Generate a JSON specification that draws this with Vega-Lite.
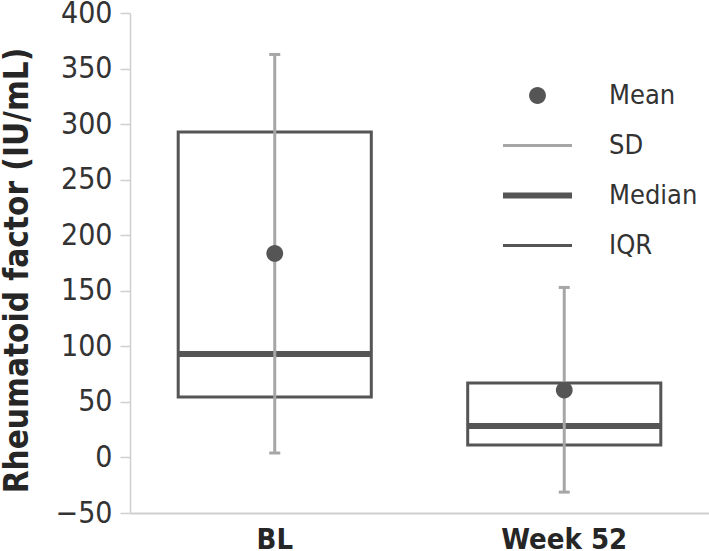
{
  "$schema": "https://vega.github.io/schema/vega-lite/v6.json",
  "width": 579,
  "height": 500,
  "autosize": {"type": "none"},
  "padding": {"left": 130, "top": 13, "right": 0, "bottom": 38},
  "background": "white",
  "config": {
    "view": {"stroke": null},
    "font": "DejaVu Sans Condensed, DejaVu Sans"
  },
  "data": {
    "values": [
      {"group": "BL", "mean": 183.6, "sdLow": 4, "sdHigh": 362.7, "q1": 54.5, "median": 93, "q3": 293},
      {"group": "Week 52", "mean": 60.6, "sdLow": -31.2, "sdHigh": 153, "q1": 11.3, "median": 28.2, "q3": 67.1}
    ]
  },
  "encoding": {
    "x": {
      "field": "group",
      "type": "nominal",
      "sort": ["BL", "Week 52"],
      "scale": {"paddingInner": 0, "paddingOuter": 0},
      "axis": {
        "title": null,
        "labelAngle": 0,
        "labelFont": "DejaVu Sans Condensed, DejaVu Sans",
        "labelFontSize": 29,
        "labelFontWeight": "bold",
        "labelColor": "#262626",
        "labelPadding": 12,
        "ticks": false,
        "domainColor": "#cfcfcf",
        "domainWidth": 2
      }
    }
  },
  "layer": [
    {
      "mark": {"type": "bar", "fill": null, "fillOpacity": 0, "stroke": "#555555", "strokeWidth": 3, "width": {"band": 0.667}},
      "encoding": {
        "y": {
          "field": "q1",
          "type": "quantitative",
          "scale": {"domain": [-50, 400], "nice": false, "zero": false},
          "axis": {
            "title": "Rheumatoid factor (IU/mL)",
            "titleFont": "DejaVu Sans Condensed, DejaVu Sans",
            "titleFontSize": 33,
            "titleFontWeight": "bold",
            "titleColor": "#262626",
            "titleX": -96,
            "titleY": 257,
            "values": [-50, 0, 50, 100, 150, 200, 250, 300, 350, 400],
            "labelFont": "DejaVu Sans Condensed, DejaVu Sans",
            "labelFontSize": 30,
            "labelColor": "#333333",
            "labelPadding": 8,
            "tickSize": 10,
            "tickColor": "#cfcfcf",
            "tickWidth": 1.5,
            "domainColor": "#cfcfcf",
            "domainWidth": 1.5,
            "grid": false
          }
        },
        "y2": {"field": "q3"}
      }
    },
    {
      "mark": {"type": "tick", "color": "#555555", "thickness": 6, "size": 193, "opacity": 1},
      "encoding": {"y": {"field": "median", "type": "quantitative"}}
    },
    {
      "mark": {"type": "rule", "color": "#a6a6a6", "strokeWidth": 3},
      "encoding": {"y": {"field": "sdLow", "type": "quantitative"}, "y2": {"field": "sdHigh"}}
    },
    {
      "mark": {"type": "tick", "color": "#a6a6a6", "thickness": 3, "size": 11, "opacity": 1},
      "encoding": {"y": {"field": "sdHigh", "type": "quantitative"}}
    },
    {
      "mark": {"type": "tick", "color": "#a6a6a6", "thickness": 3, "size": 11, "opacity": 1},
      "encoding": {"y": {"field": "sdLow", "type": "quantitative"}}
    },
    {
      "mark": {"type": "point", "filled": true, "opacity": 1, "size": 576, "strokeWidth": 0},
      "encoding": {
        "y": {"field": "mean", "type": "quantitative"},
        "color": {
          "datum": "Mean",
          "type": "nominal",
          "scale": {
            "domain": ["Mean", "SD", "Median", "IQR"],
            "range": ["#555555", "#a6a6a6", "#555555", "#555555"]
          },
          "legend": {
            "title": null,
            "orient": "none",
            "legendX": 394,
            "legendY": 69,
            "symbolSize": 576,
            "symbolStrokeWidth": 0,
            "symbolOpacity": 1,
            "labelFont": "DejaVu Sans Condensed, DejaVu Sans",
            "labelFontSize": 27,
            "labelColor": "#333333",
            "labelOffset": 58,
            "rowPadding": 22
          }
        },
        "shape": {
          "datum": "Mean",
          "type": "nominal",
          "scale": {
            "domain": ["Mean", "SD", "Median", "IQR"],
            "range": [
              "M0.7,0A0.7,0.7,0,1,1,-0.7,0A0.7,0.7,0,1,1,0.7,0Z",
              "M-2.875,-0.125H2.875V0.125H-2.875Z",
              "M-2.875,-0.25H2.875V0.25H-2.875Z",
              "M-2.875,-0.125H2.875V0.125H-2.875Z"
            ]
          },
          "legend": {
            "title": null,
            "orient": "none",
            "legendX": 394,
            "legendY": 69,
            "symbolSize": 576,
            "symbolStrokeWidth": 0,
            "symbolOpacity": 1,
            "labelFont": "DejaVu Sans Condensed, DejaVu Sans",
            "labelFontSize": 27,
            "labelColor": "#333333",
            "labelOffset": 58,
            "rowPadding": 22
          }
        }
      }
    }
  ]
}
